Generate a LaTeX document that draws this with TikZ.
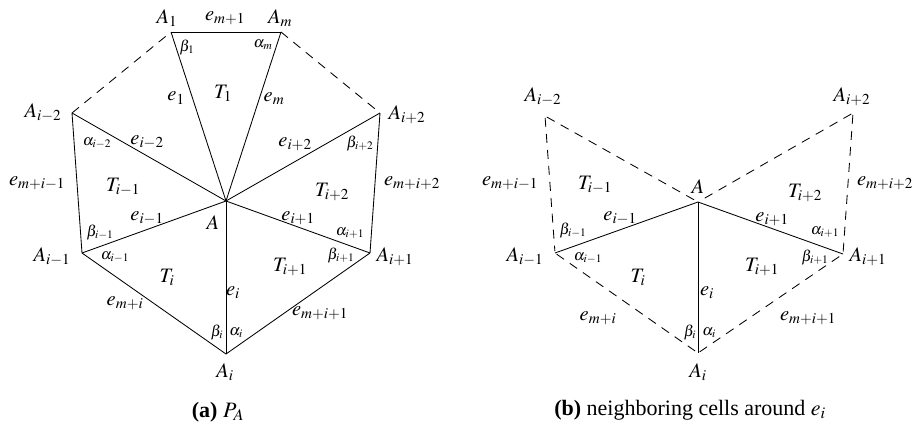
\documentclass[tikz,border=0pt]{standalone}
\usepackage{mathptmx}
\usepackage[no-math]{fontspec}
\setmainfont{Liberation Serif}
\usetikzlibrary{positioning}
\tikzset{
  edgeline/.style={line width=.85pt},
  dashline/.style={line width=.85pt,dash pattern=on 9pt off 7pt},
  lbl/.style={inner sep=0pt,font=\fontsize{20.5}{23}\selectfont},
  angl/.style={inner sep=0pt,font=\fontsize{15.5}{18}\selectfont},
  capt/.style={inner sep=0pt,font=\fontsize{22}{25}\selectfont}
}

\begin{document}
\begin{tikzpicture}[x=1pt,y=-1pt]
\useasboundingbox (0,0) rectangle (920,429);
% (a) the cell P_A
\foreach \n/\x/\y in {a1/171/32,am/281/32,aim2/72/113,aip2/380/113,ac/226/201,aim1/82/253,aip1/370/253,ai/226/354}
  \coordinate (\n) at (\x,\y);
\foreach \p/\q in {a1/am,a1/ac,am/ac,aim2/ac,aip2/ac,aim2/aim1,aim1/ac,aim1/ai,ai/ac,ai/aip1,aip1/ac,aip1/aip2}
  \draw[edgeline] (\p) -- (\q);
\draw[dashline] (aim2) -- (a1);
\draw[dashline] (am) -- (aip2);
\foreach \n/\x/\y/\t in {la1/167/18/{A_1},lam/280/18/{A_m},lem1/225/18/{e_{m+1}},lt1/223/93/{T_1},le1/176/98/{e_1},lem/274/99/{e_m},
    laim2/43/113/{A_{i-2}},laip2/407/115/{A_{i+2}},leim2/147/142/{e_{i-2}},leip2/295/144/{e_{i+2}},
    lemim1/37/183/{e_{m+i-1}},ltim1/123/187/{T_{i-1}},ltip2/332/192/{T_{i+2}},lemip2/412/183/{e_{m+i+2}},
    leim1/147/218/{e_{i-1}},lac/213/223/{A},leip1/298/218/{e_{i+1}},laim1/52/257/{A_{i-1}},laip1/395/257/{A_{i+1}},
    lti/167/277/{T_i},ltip1/290/267/{T_{i+1}},lei/233/293/{e_i},lemi/125/303/{e_{m+i}},lemip1/320/313/{e_{m+i+1}},lai/225/372/{A_i}}
  \node[lbl] (\n) at (\x,\y) {$\t$};
\foreach \n/\x/\y/\t in {lb1/187/47/{\beta_1},lalm/263/45/{\alpha_m},lalim2/97/143/{\alpha_{i-2}},lbip2/360/143/{\beta_{i+2}},
    lbim1/100/232/{\beta_{i-1}},lalip1/350/233/{\alpha_{i+1}},lalim1/115/257/{\alpha_{i-1}},lbip1/341/255/{\beta_{i+1}},
    lbi/217/332/{\beta_i},lali/236/333/{\alpha_i}}
  \node[angl] (\n) at (\x,\y) {$\t$};
\node[capt] (capa) at (218,412) {\textbf{(a)} $P_A$};
% (b) neighboring cells around e_i
\foreach \n/\x/\y in {bc/698/202,bim2/545/116,bip2/853/113,bim1/555/253,bip1/843/254,bi/698/353}
  \coordinate (\n) at (\x,\y);
\foreach \p/\q in {bc/bim1,bc/bip1,bc/bi}
  \draw[edgeline] (\p) -- (\q);
\foreach \p/\q in {bim2/bim1,bim2/bc,bip2/bc,bip2/bip1,bim1/bi,bi/bip1}
  \draw[dashline,shorten <=2pt,shorten >=2pt] (\p) -- (\q);
\foreach \n/\x/\y/\t in {mbim2/543/97/{A_{i-2}},mbip2/852/97/{A_{i+2}},mbemim1/510/183/{e_{m+i-1}},mbtim1/595/185/{T_{i-1}},
    mbc/698/187/{A},mbtip2/805/193/{T_{i+2}},mbemip2/885/183/{e_{m+i+2}},mbeim1/620/218/{e_{i-1}},mbeip1/772/219/{e_{i+1}},
    mbim1/525/257/{A_{i-1}},mbip1/868/257/{A_{i+1}},mbti/638/277/{T_i},mbtip1/762/267/{T_{i+1}},mbei/707/293/{e_i},
    mbemi/598/318/{e_{m+i}},mbemip1/808/318/{e_{m+i+1}},mbi/698/372/{A_i}}
  \node[lbl] (\n) at (\x,\y) {$\t$};
\foreach \n/\x/\y/\t in {mbbim1/573/230/{\beta_{i-1}},mbalip1/825/232/{\alpha_{i+1}},mbalim1/588/258/{\alpha_{i-1}},
    mbbip1/815/257/{\beta_{i+1}},mbbi/690/332/{\beta_i},mbali/709/333/{\alpha_i}}
  \node[angl] (\n) at (\x,\y) {$\t$};
\node[capt] (capb) at (690,410) {\textbf{(b)} neighboring cells around $e_i$};
\end{tikzpicture}
\end{document}
